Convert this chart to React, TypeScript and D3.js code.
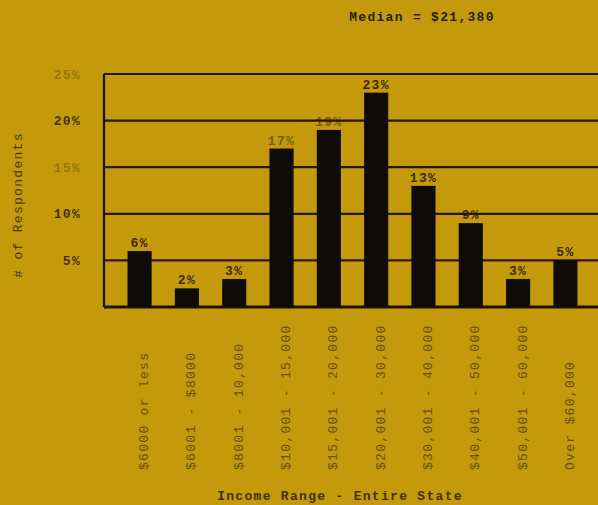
import { useMemo } from 'react';
import * as d3 from 'd3';

// chart data
const categories = [
  '$6000 or less',
  '$6001 - $8000',
  '$8001 - 10,000',
  '$10,001 - 15,000',
  '$15,001 - 20,000',
  '$20,001 - 30,000',
  '$30,001 - 40,000',
  '$40,001 - 50,000',
  '$50,001 - 60,000',
  'Over $60,000',
];
const percents = [6, 2, 3, 17, 19, 23, 13, 9, 3, 5];
const yTicks = [5, 10, 15, 20, 25];
const fadedTicks = [15, 25];

const title = 'Median = $21,380';
const xTitle = 'Income Range - Entire State';
const yTitle = '# of Respondents';

const W = 598;
const H = 505;
const font = '"Liberation Mono", "DejaVu Sans Mono", monospace';
const ink = '#2b1d08';

export default function App() {
  // scales
  const x = useMemo(
    () => d3.scaleBand<string>()
      .domain(categories)
      .range([104, 601])
      .paddingInner(0.49)
      .paddingOuter(0.497),
    [],
  );
  const y = useMemo(
    () => d3.scaleLinear().domain([0, 25]).range([307, 74]),
    [],
  );

  const textStyle = {
    fontFamily: font,
    fontSize: 13,
    letterSpacing: 1.3,
  };
  const boldStyle = { ...textStyle, fontWeight: 'bold' as const };

  return (
    <svg
      width={W}
      height={H}
      style={{ position: 'absolute', left: 0, top: 0, background: '#c49a0c' }}
    >
      <rect x={0} y={0} width={W} height={H} fill="#c49a0c" />

      {/* title */}
      <text x={422} y={21} textAnchor="middle" fill={ink} style={boldStyle}>
        {title}
      </text>

      {/* grid */}
      {yTicks.map((t) => (
        <line
          key={t}
          x1={104}
          x2={W}
          y1={y(t)}
          y2={y(t)}
          stroke={t === 5 ? '#3a1408' : '#24160a'}
          strokeWidth={2.2}
        />
      ))}
      <line x1={104} x2={104} y1={y(25)} y2={y(0)} stroke="#1a1208" strokeWidth={2.2} />
      <line x1={104} x2={W} y1={y(0)} y2={y(0)} stroke="#1a1208" strokeWidth={2.8} />

      {/* y tick labels */}
      {yTicks.map((t) => (
        <text
          key={t}
          x={81}
          y={y(t)}
          dy="0.35em"
          textAnchor="end"
          fill={ink}
          opacity={fadedTicks.includes(t) ? 0.3 : 0.85}
          style={boldStyle}
        >
          {`${t}%`}
        </text>
      ))}

      {/* bars */}
      {categories.map((c, i) => (
        <rect
          key={c}
          x={x(c)}
          y={y(percents[i])}
          width={x.bandwidth()}
          height={y(0) - y(percents[i])}
          fill="#0e0b08"
        />
      ))}

      {/* bar value labels */}
      {categories.map((c, i) => (
        <text
          key={c}
          x={(x(c) ?? 0) + x.bandwidth() / 2}
          y={y(percents[i]) - 4}
          textAnchor="middle"
          fill={ink}
          opacity={percents[i] === 17 || percents[i] === 19 ? 0.5 : 0.9}
          style={boldStyle}
        >
          {`${percents[i]}%`}
        </text>
      ))}

      {/* category labels */}
      {categories.map((c) => {
        const cx = (x(c) ?? 0) + x.bandwidth() / 2 + 4;
        return (
          <text
            key={c}
            transform={`translate(${cx},470) rotate(-90)`}
            dy="0.35em"
            fill="#4a3510"
            opacity={0.75}
            style={textStyle}
          >
            {c}
          </text>
        );
      })}

      {/* axis titles */}
      <text x={340} y={500} textAnchor="middle" fill={ink} opacity={0.85} style={boldStyle}>
        {xTitle}
      </text>
      <text
        transform="translate(17,205) rotate(-90)"
        dy="0.35em"
        textAnchor="middle"
        fill={ink}
        opacity={0.8}
        style={textStyle}
      >
        {yTitle}
      </text>
    </svg>
  );
}
